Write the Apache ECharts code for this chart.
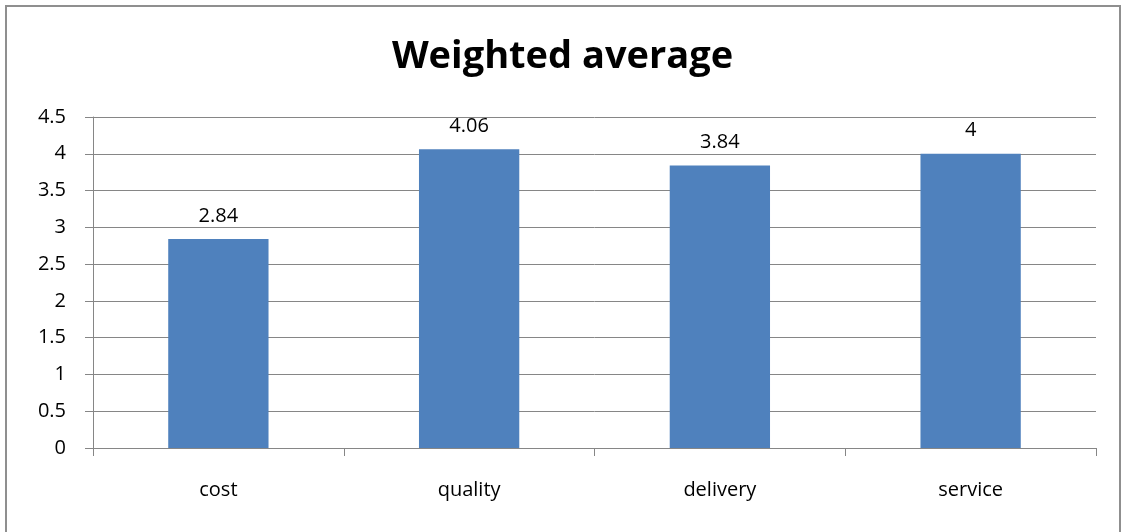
<!DOCTYPE html>
<html>
<head>
<meta charset="utf-8">
<script src="https://cdn.jsdelivr.net/npm/echarts@6/dist/echarts.min.js"></script>
<style>
  html, body { margin: 0; padding: 0; background: #fff; }
  #frame { position: absolute; left: 5px; top: 5px; width: 1116px; height: 540px; border: 2px solid #8f8f8f; box-sizing: border-box; }
  #chart { position: absolute; left: 0; top: 0; width: 1125px; height: 532px; }
</style>
</head>
<body>
<div id="frame"></div>
<div id="chart"></div>
<script>
// Weighted average score per criterion
const categories = ['cost', 'quality', 'delivery', 'service'];
const weightedAverage = [2.84, 4.06, 3.84, 4];
const yTicks = { min: 0, max: 4.5, interval: 0.5 };

const chart = echarts.init(document.getElementById('chart'), null, { renderer: 'canvas' });
const font = '"Open Sans", Lato, sans-serif';

chart.setOption({
  animation: false,
  backgroundColor: 'transparent',
  title: {
    text: 'Weighted average',
    left: 'center',
    top: 33,
    textStyle: { fontFamily: font, fontSize: 38, fontWeight: 'bold', color: '#000' }
  },
  grid: { left: 93, right: 29, top: 117, bottom: 84 },
  xAxis: {
    type: 'category',
    data: categories,
    axisLine: { lineStyle: { color: '#868686', width: 1 } },
    axisTick: { show: true, length: 8, alignWithLabel: false, lineStyle: { color: '#868686' } },
    axisLabel: { margin: 32, fontFamily: font, fontSize: 20, color: '#000' }
  },
  yAxis: {
    type: 'value',
    min: yTicks.min,
    max: yTicks.max,
    interval: yTicks.interval,
    axisLine: { show: true, lineStyle: { color: '#868686', width: 1 } },
    axisTick: { show: true, length: 8, lineStyle: { color: '#868686' } },
    splitLine: { show: true, lineStyle: { color: '#868686', width: 1 } },
    axisLabel: { margin: 27, fontFamily: font, fontSize: 20, color: '#000' }
  },
  series: [{
    type: 'bar',
    data: weightedAverage,
    barWidth: '40%',
    itemStyle: { color: '#4F81BD' },
    label: {
      show: true,
      position: 'top',
      distance: 13,
      fontFamily: font,
      fontSize: 20,
      color: '#000'
    }
  }]
});
</script>
</body>
</html>
